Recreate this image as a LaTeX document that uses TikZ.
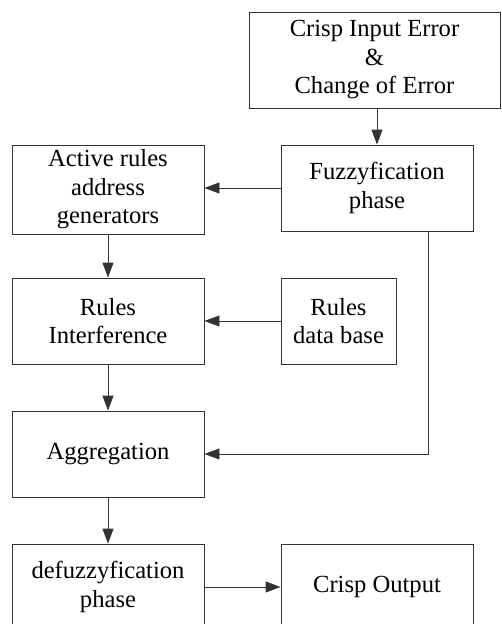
\documentclass[tikz,border=0pt]{standalone}
\usepackage{fontspec}
\setmainfont{Liberation Serif}
\usetikzlibrary{arrows.meta,positioning}

\tikzset{
  block/.style={draw=black!80, line width=0.9pt, inner sep=0pt, align=center,
    minimum width=192pt, minimum height=86pt,
    font=\fontsize{24.6}{28.5}\selectfont},
  flow/.style={draw=black!80, line width=0.9pt, -{Triangle[length=15pt,width=11pt]}},
}

\begin{document}
\begin{tikzpicture}[x=1pt, y=-1pt]
  \useasboundingbox (0,0) rectangle (501,624);
  \clip (0,0) rectangle (501,624);

  \node[block, minimum width=251pt, minimum height=96pt] (input) at (374.5,60)
    {Crisp Input Error\\\&\\Change of Error};
  \node[block] (fuzz) at (377,188) {Fuzzyfication\\phase};
  \node[block, minimum height=89pt] (active) at (108,189.5)
    {Active rules\\address\\generators};
  \node[block] (interf) at (108,321) {Rules\\Interference};
  \node[block, minimum width=115pt] (database) at (338.5,321) {Rules\\data base};
  \node[block] (aggr) at (108,454) {Aggregation};
  \node[block] (defuzz) at (108,587) {defuzzyfication\\phase};
  \node[block] (output) at (377,587) {Crisp Output};

  % connectors
  \draw[flow] (fuzz.north |- input.south) -- (fuzz.north);
  \draw[flow] (fuzz.west) -- (fuzz.west -| active.east);
  \draw[flow] (active) -- (interf);
  \draw[flow] (database) -- (interf);
  \draw[flow] (interf) -- (aggr);
  \draw[flow] ([xshift=51pt]fuzz.south) |- (aggr.east);
  \draw[flow] (aggr) -- (defuzz);
  \draw[flow] (defuzz) -- (output);
\end{tikzpicture}
\end{document}
